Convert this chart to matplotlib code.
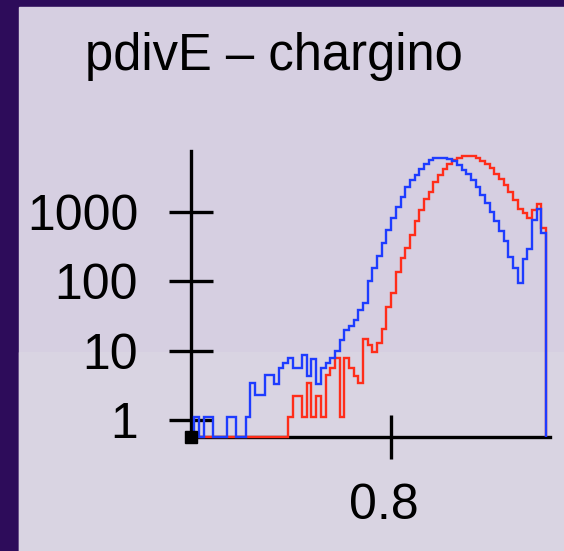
import matplotlib.pyplot as plt
import numpy as np
from matplotlib.patches import Rectangle
from matplotlib.ticker import NullLocator
from matplotlib.transforms import ScaledTranslation

# binning of pdivE
x_lo, x_hi, n_bins = 0.585, 0.965, 76

blue_counts = [0, 1.13, 0, 1.13, 1.13, 0, 0, 0, 1.13, 1.13,
               0, 0, 1.13, 3.4, 2.3, 2.3, 4.5, 4.5, 3.3, 5.6,
               6.7, 7.8, 5.6, 5.6, 8.7, 4.4, 7.5, 3.3, 5.6, 6.7,
               7.8, 10, 14.3, 19.6, 23, 28, 39, 49, 100, 153,
               231, 357, 545, 815, 1170, 1640, 2230, 2850, 3400, 4100,
               4840, 5530, 5800, 5900, 5850, 5700, 5300, 4620, 4010, 3520,
               2890, 2270, 1740, 1340, 1000, 740, 530, 380, 225, 153,
               93, 206, 290, 760, 1085, 500]

red_counts = [0, 0, 0, 0, 0, 0, 0, 0, 0, 0,
              0, 0, 0, 0, 0, 0, 0, 0, 0, 0,
              0, 1.13, 2.27, 2.27, 1.13, 3.4, 1.13, 2.27, 1.13, 4.5,
              5.6, 7.8, 1.13, 7.8, 5.6, 4.4, 3.4, 15, 12, 9.7,
              13, 20.6, 42, 68, 137, 213, 297, 460, 735, 1050,
              1540, 1930, 2640, 3360, 4140, 4800, 5530, 5950, 6300, 6400,
              6300, 5900, 5400, 4800, 4200, 3500, 2900, 2400, 1900, 1450,
              1080, 940, 810, 1060, 1300, 580]

y_ticks = [1, 10, 100, 1000]
y_labels = ['1', '10', '100', '1000']
x_ticks = [0.8]
x_labels = ['0.8']
title = 'pdivE \u2013 chargino'

plt.rcParams['font.family'] = ['Liberation Sans', 'DejaVu Sans']

W, H = 564, 551
fig = plt.figure(figsize=(W / 100, H / 100), dpi=100, facecolor='#2d0c5a')

# light slide panel (lower half a touch lighter)
fig.patches.append(Rectangle((19 / W, 0), 1, 1 - 7 / H, transform=fig.transFigure,
                             color='#d6cfe1', zorder=-10))
fig.patches.append(Rectangle((19 / W, 0), 1, 1 - 352 / H, transform=fig.transFigure,
                             color='#d9d4e2', zorder=-9))

ax = fig.add_axes([191 / W, 114 / H, (550 - 191) / W, (437 - 151) / H])
ax.set_facecolor('none')
ax.set_zorder(1)

edges = np.linspace(x_lo, x_hi, n_bins + 1)
ymin, ymax = 0.577, 7430

ax.set_yscale('log')
ax.set_xlim(0.5866, 0.9693)
ax.set_ylim(ymin, ymax)

ax.stairs(np.maximum(red_counts, ymin), edges, baseline=ymin,
          color='#ff2d1a', lw=1.7, zorder=3, clip_on=False)
ax.stairs(np.maximum(blue_counts, ymin), edges, baseline=ymin,
          color='#1e3cff', lw=1.7, zorder=4, clip_on=False)

# little square at the origin, ROOT style
ax.plot([0], [0], marker='s', ms=8, color='black', transform=ax.transAxes,
        clip_on=False, zorder=5)

for side in ['top', 'right']:
    ax.spines[side].set_visible(False)
for side in ['left', 'bottom']:
    ax.spines[side].set_linewidth(2.4)
    ax.spines[side].set_color('black')

ax.set_yticks(y_ticks, y_labels)
ax.set_xticks(x_ticks, x_labels)
ax.yaxis.set_minor_locator(NullLocator())
ax.xaxis.set_minor_locator(NullLocator())
ax.tick_params(axis='both', direction='inout', length=32, width=2.4,
               labelsize=36, colors='black')
ax.tick_params(axis='y', pad=22)
ax.tick_params(axis='x', pad=17)

# ROOT puts the x label a bit left of its tick
shift = ScaledTranslation(-7 / 100, 0, fig.dpi_scale_trans)
for lab in ax.get_xticklabels():
    lab.set_transform(lab.get_transform() + shift)

fig.text(85 / W, 1 - 70 / H, title, fontsize=36.5, ha='left', va='baseline')

fig.savefig('out.png', dpi=100, facecolor=fig.get_facecolor())
